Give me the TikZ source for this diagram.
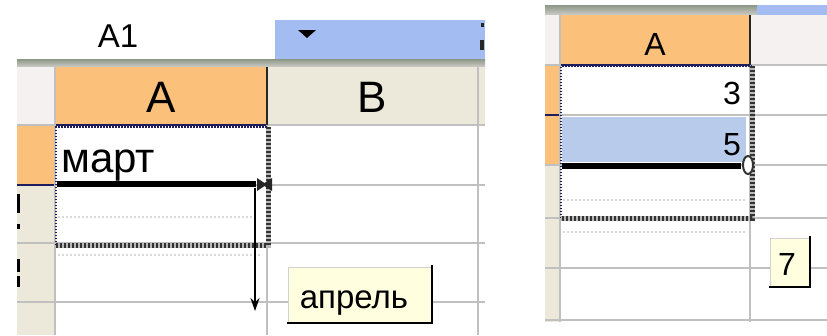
\documentclass[tikz,border=0pt]{standalone}
\usepackage{fontspec}
\setmainfont{Liberation Sans}
\usetikzlibrary{arrows.meta}
\definecolor{hdrsel}{RGB}{251,192,122}
\definecolor{hdr}{RGB}{236,233,218}
\definecolor{corner}{RGB}{245,241,240}
\definecolor{barblue}{RGB}{163,189,242}
\definecolor{selblue}{RGB}{184,203,234}
\definecolor{gridc}{RGB}{192,192,192}
\definecolor{tipfill}{RGB}{255,255,224}
\definecolor{navy}{RGB}{30,30,95}
\definecolor{bandtop}{RGB}{140,150,135}
\definecolor{bandbot}{RGB}{205,205,198}
\begin{document}
\begin{tikzpicture}[x=1pt,y=-1pt,
  txt/.style={inner sep=0pt, text=black},
  fbig/.style={font=\fontsize{42}{48}\selectfont},
  fhead/.style={font=\fontsize{44}{50}\selectfont},
  fname/.style={font=\fontsize{33}{38}\selectfont},
  ftip/.style={font=\fontsize{33}{38}\selectfont},
  fsmall/.style={font=\fontsize{32}{38}\selectfont},
  gridline/.style={draw=gridc, line width=1.5pt},
  darkline/.style={draw=navy, line width=1.5pt},
  blackline/.style={draw=black!85, line width=2pt},
  faint/.style={draw=gray!30, line width=1.5pt, dash pattern=on 2pt off 2pt},
  selthin/.style={draw=navy, line width=2pt, dash pattern=on 1.5pt off 1.5pt},
  selthickbase/.style={draw=gray!55, line width=5pt},
  selthick/.style={draw=black!80, line width=5pt, dash pattern=on 2pt off 2pt},
  fillbar/.style={draw=black, line width=6pt},
  tipshadow/.style={draw=black, line width=2.2pt},
  tipedge/.style={draw=gray!35, line width=1pt},
  arrowline/.style={draw=black, line width=1.5pt, -{Stealth[length=13pt,width=9pt]}},
]
\useasboundingbox (0,0) rectangle (827,335);
\fill[white] (0,0) rectangle (827,335);

% ---------------- left panel ----------------
\begin{scope}
\clip (17,20) rectangle (485,335);
\fill[white] (17,20) rectangle (275,60);
\fill[barblue] (275,20) rectangle (485,60);
\shade[top color=bandtop, bottom color=bandbot] (17,59) rectangle (485,67);
\node[txt, fname, anchor=base] (nameA1) at (118,47) {A1};
\fill[black] (298,30) -- (316,30) -- (307,38) -- cycle;
% partial close mark at the right edge
\fill[black!85] (481,23) rectangle (484,27);
\fill[black!85] (480,40) rectangle (484,50);

% header row
\fill[corner] (17,67) rectangle (55,125);
\fill[hdrsel] (55,67) rectangle (267,125);
\fill[hdr] (267,67) rectangle (485,125);
% row headers
\fill[hdrsel] (17,125) rectangle (55,185);
\fill[hdr] (17,185) rectangle (55,335);

% grid
\draw[gridline] (17,125) -- (485,125);
\draw[darkline] (55,125) -- (267,125);
\draw[gridline] (55,185) -- (485,185);
\draw[darkline] (17,185) -- (55,185);
\draw[gridline] (17,243) -- (485,243);
\draw[gridline] (17,302) -- (485,302);
\draw[gridline] (55,67) -- (55,335);
\draw[gridline] (267,67) -- (267,335);
\draw[blackline] (267,67) -- (267,125);
\draw[gridline] (478,67) -- (478,335);

% partial row numbers (cut off at the panel edge)
\fill[black] (17,194) rectangle (20,213);
\fill[black] (17,224) rectangle (20,229);
\fill[black] (17,259) rectangle (20,272);
\fill[black] (17,276) rectangle (20,287);

% header letters
\node[txt, fhead, anchor=base] (colA) at (161,112) {A};
\node[txt, fhead, anchor=base] (colB) at (372,112) {B};

% cell text
\node[txt, fbig, anchor=base west] (mart) at (61,172) {март};

% faint preview lines
\draw[faint] (58,217) -- (255,217);
\draw[faint] (58,255) -- (262,255);

% selection border
\draw[selthin] (56,245) -- (56,127) -- (268,127);
\draw[selthickbase] (268,127) -- (268,245) -- (56,245);
\draw[selthick] (268,127) -- (268,245) -- (56,245);

% fill bar and handle
\draw[fillbar] (57,184) -- (256,184);
\fill[black!85] (257,178) -- (257,191) -- (264.5,186) -- (272,191) -- (272,178) -- (264.5,183) -- cycle;

% arrow
\coordinate (arrS) at (255,188);
\coordinate (arrE) at (255,311);
\draw[arrowline] (arrS) -- (arrE);

% tooltip
\fill[tipfill] (288,267) rectangle (432,323);
\draw[tipedge] (288,323) -- (288,267) -- (432,267);
\draw[tipshadow] (432,265) -- (432,323) -- (287,323);
\node[txt, ftip, anchor=base] (aprel) at (354,308) {апрель};
\end{scope}

% ---------------- right panel ----------------
\begin{scope}
\clip (545,5) rectangle (827,322);
\shade[top color=bandtop, bottom color=bandbot] (545,5) rectangle (757,15);
\fill[barblue] (757,5) rectangle (827,15);
% header
\fill[corner] (545,15) rectangle (560,65);
\fill[hdrsel] (560,15) rectangle (750,65);
\fill[corner] (750,15) rectangle (827,65);
% row headers
\fill[hdrsel] (545,65) rectangle (560,165);
\fill[hdr] (545,165) rectangle (560,322);
% selected cell
\fill[selblue] (562,117) rectangle (746,162);

% grid
\draw[gridline] (545,65) -- (827,65);
\draw[darkline] (560,65) -- (750,65);
\draw[gridline] (560,115) -- (827,115);
\draw[darkline] (545,115) -- (560,115);
\draw[gridline] (545,165) -- (827,165);
\draw[gridline] (545,218) -- (827,218);
\draw[gridline] (545,268) -- (827,268);
\draw[gridline] (545,320) -- (827,320);
\draw[gridline] (560,15) -- (560,322);
\draw[gridline] (750,15) -- (750,322);
\draw[blackline] (750,15) -- (750,65);

\node[txt, fsmall, anchor=base] (colA2) at (655,55) {A};
\node[txt, fsmall, anchor=base east] (three) at (741,104) {3};
\node[txt, fsmall, anchor=base east] (five) at (741,155) {5};

\draw[faint] (563,200) -- (745,200);
\draw[faint] (563,232) -- (745,232);

\draw[selthin] (561,218) -- (561,66) -- (752,66);
\draw[selthickbase] (752,66) -- (752,218) -- (561,218);
\draw[selthick] (752,66) -- (752,218) -- (561,218);

\draw[fillbar] (562,166) -- (741,166);
\draw[black!80, line width=2pt, fill=white] (748,165) ellipse (5 and 9);

\fill[tipfill] (770,238) rectangle (810,287);
\draw[tipedge] (770,287) -- (770,238) -- (810,238);
\draw[tipshadow] (810,236) -- (810,287) -- (769,287);
\node[txt, fsmall, anchor=base] (seven) at (787,275) {7};
\end{scope}
\end{tikzpicture}
\end{document}
